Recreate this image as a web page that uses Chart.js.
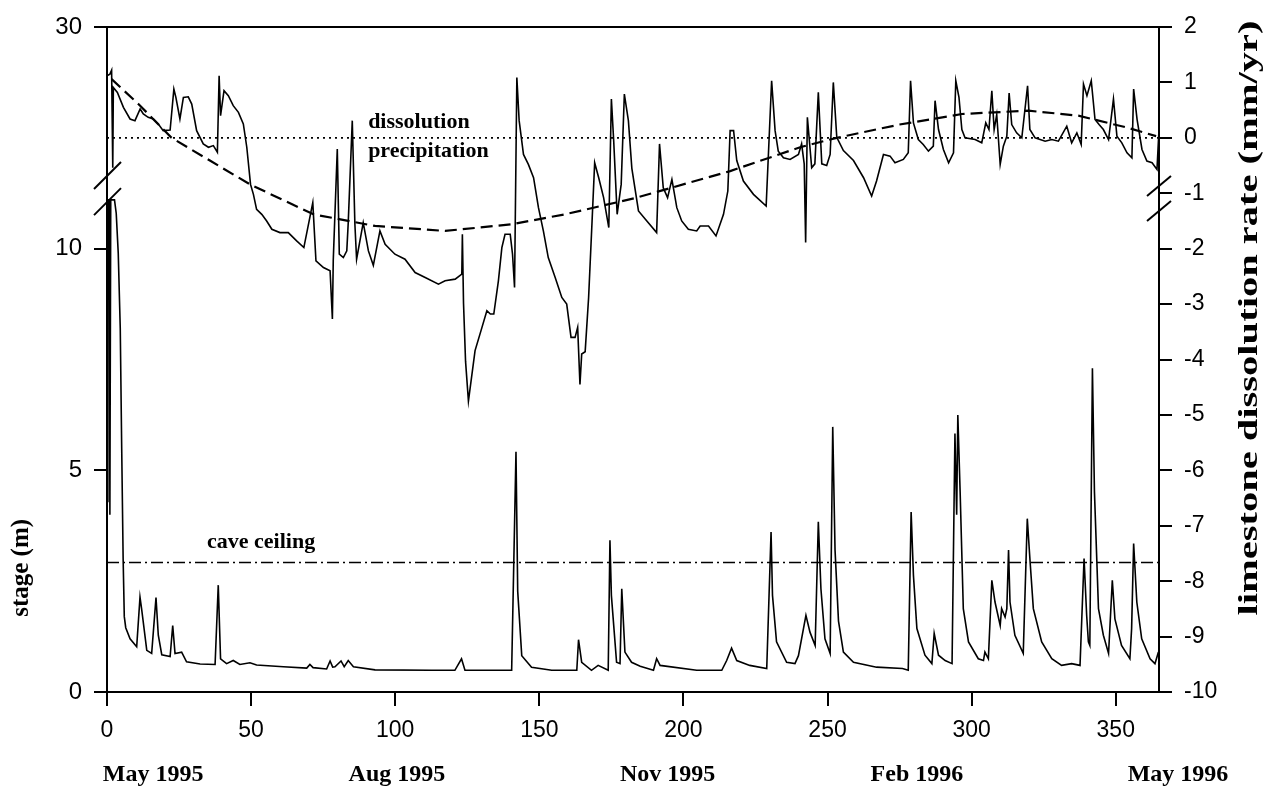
<!DOCTYPE html>
<html>
<head>
<meta charset="utf-8">
<title>Stage and limestone dissolution rate</title>
<script src="https://cdn.jsdelivr.net/npm/chart.js@4.4.1/dist/chart.umd.min.js"></script>
<style>
  html, body { margin: 0; padding: 0; background: #fff; }
  #wrap { width: 1266px; height: 791px; }
</style>
</head>
<body>
<div id="wrap"><canvas id="chart" width="1266" height="791"></canvas></div>
<script>
// ---- data (day 0 = 1 May 1995) ----
const stageDays = [
  0, 0.3, 0.8, 1.0, 1.3, 2.6, 3.2, 3.9, 4.6, 5.1, 5.6, 6.0, 6.5, 8.0, 10.3, 11.45, 12.0, 13.8, 15.5, 17.0,
  17.8, 19.0, 21.9, 22.8, 23.6, 25.9, 27.6, 32.3, 37.5, 38.6, 39.4, 41.5, 43.8, 46.1, 49.6, 51.9, 61.2, 69.3, 70.4, 71.5,
  76.2, 77.4, 78.3, 79.1, 81.2, 82.3, 83.7, 85.5, 93, 112.6, 120.7, 123, 124.2, 140.4, 141.9, 142.5, 143.9, 147.3, 154.3, 163,
  163.6, 164.7, 168.1, 170.4, 173.9, 174.5, 175, 176.8, 178, 178.6, 179.7, 182, 185, 189.6, 190.7, 191.9, 204.6, 213.3, 215, 216.7,
  218.5, 223, 228.9, 230.4, 230.9, 232.3, 235.8, 238.7, 239.9, 242.5, 243.9, 245.7, 246.8, 247.7, 249.1, 250.9, 251.8, 252.6, 253.8, 255.5,
  259, 267, 276, 278, 279, 279.8, 281, 283.8, 286.2, 287, 288.5, 290.8, 293.2, 294.2, 294.8, 295.2, 296, 297.1, 298.9, 302.3,
  304.1, 304.6, 305.8, 307, 308.1, 309.9, 310.4, 311.6, 312.2, 312.8, 313.3, 315, 317.9, 319.3, 320.2, 321.4, 324.3, 327.8, 331.2, 334.7,
  337.6, 339, 339.9, 340.5, 341, 341.9, 342.6, 344, 345.7, 347.5, 348.8, 349.7, 352, 354.9, 355.5, 356.2, 357.3, 359, 361.9, 363.6,
  364.8
];
const stageValues = [
  4.3, 11.1, 11.1, 4.0, 11.1, 11.1, 10.8, 9.9, 8.2, 5.5, 3.0, 1.7, 1.45, 1.2, 1.02, 2.14, 1.88, 0.94, 0.87, 2.13,
  1.28, 0.84, 0.80, 1.5, 0.87, 0.9, 0.68, 0.63, 0.62, 2.41, 0.75, 0.64, 0.71, 0.62, 0.66, 0.61, 0.57, 0.54, 0.62, 0.55,
  0.52, 0.70, 0.56, 0.57, 0.70, 0.57, 0.71, 0.57, 0.5, 0.49, 0.49, 0.75, 0.49, 0.49, 5.42, 2.27, 0.82, 0.56, 0.49, 0.49,
  1.18, 0.67, 0.49, 0.60, 0.49, 3.42, 2.18, 0.67, 0.64, 2.33, 0.90, 0.67, 0.58, 0.49, 0.75, 0.60, 0.49, 0.49, 0.71, 0.99,
  0.71, 0.60, 0.53, 3.61, 2.18, 1.13, 0.67, 0.64, 0.82, 1.73, 1.35, 1.05, 3.84, 2.33, 1.2, 0.87, 5.98, 3.2, 1.6, 0.9,
  0.67, 0.56, 0.53, 0.49, 4.06, 2.63, 1.43, 0.83, 0.64, 1.32, 0.83, 0.71, 0.64, 5.83, 4.0, 6.25, 4.52, 1.88, 1.13, 0.75,
  0.71, 0.9, 0.75, 2.52, 2.03, 1.5, 1.88, 1.69, 1.88, 3.2, 2.03, 1.28, 0.87, 3.91, 3.01, 1.88, 1.13, 0.75, 0.60, 0.64,
  0.60, 3.01, 1.73, 1.13, 1.05, 7.30, 4.52, 1.88, 1.28, 0.87, 2.52, 1.65, 1.05, 0.75, 1.43, 3.35, 2.03, 1.2, 0.75, 0.64,
  0.9
];

const rateDays = [
  0, 1.0, 1.6, 2.0, 2.2, 3.6, 5.7, 8.0, 9.7, 11.5, 12.6, 14.3, 16.1, 17.8, 19.5, 21.9, 23.2, 23.9, 25.3, 26.5,
  28.2, 29.4, 31.1, 33.4, 35.2, 36.9, 38.3, 38.9, 39.4, 40.6, 42.1, 43.8, 45.6, 47.3, 48.5, 49.8, 50.8, 51.9, 53.7, 55.4,
  57.2, 60.0, 62.9, 65.8, 68.3, 71.4, 72.5, 75.1, 77.4, 78.2, 78.5, 79.9, 80.6, 82, 83.2, 83.7, 85.1, 86.0, 86.6, 88.9,
  90.7, 92.4, 94.7, 96.5, 99.9, 103.4, 106.9, 110.4, 115, 117.3, 120.8, 123.1, 123.3, 123.7, 124.4, 125.4, 127.7, 130.1, 131.8, 133,
  134.2, 135.8, 137, 138.1, 139.9, 140.7, 141.4, 142.2, 143, 144.5, 146.2, 148, 149.7, 151.4, 153.1, 155.5, 157.8, 159.5, 161, 162.4,
  163.3, 164.1, 164.7, 165.9, 167.1, 168.3, 169.2, 170.6, 172.3, 174.1, 175, 175.8, 177, 178.4, 179.5, 180.9, 182.1, 184.4, 187.3, 190.7,
  191.7, 193, 194.5, 196, 197.7, 199.4, 201.7, 204.6, 205.8, 208.7, 211.3, 213.9, 215.4, 216.2, 217.4, 218.5, 220.8, 224.3, 228.7, 230.6,
  231.8, 232.9, 234.7, 237, 239.9, 241, 241.9, 242.4, 243, 244.5, 245.6, 246.8, 248, 249.7, 250.9, 252, 253.2, 255.5, 259, 262.5,
  265.3, 267, 269.4, 271.7, 273.4, 276.3, 278, 278.8, 279.8, 281.5, 283.2, 285, 286.7, 287.3, 288.5, 290.2, 292, 293.7, 294.5, 295.6,
  296.6, 297.7, 301.2, 303.5, 304.9, 306, 307, 307.8, 308.7, 309.9, 311, 312.2, 313, 313.9, 315.6, 317.4, 319.4, 320.2, 322, 325.5,
  327.8, 330.1, 333, 334.7, 336.5, 338, 338.8, 340, 341.5, 342.8, 344.2, 345.7, 347.5, 349.2, 350.4, 352.1, 353.9, 355.6, 356.2, 357.4,
  359.1, 360.8, 362.6, 364.3, 365
];
const rateValues = [
  1.12, 1.15, 1.22, -0.54, 0.91, 0.82, 0.55, 0.34, 0.31, 0.52, 0.43, 0.37, 0.34, 0.25, 0.13, 0.14, 0.88, 0.73, 0.34, 0.73,
  0.74, 0.61, 0.13, -0.11, -0.17, -0.14, -0.26, 1.12, 0.40, 0.85, 0.76, 0.58, 0.46, 0.25, -0.17, -0.84, -1.02, -1.29, -1.38, -1.5,
  -1.65, -1.71, -1.71, -1.86, -1.98, -1.17, -2.22, -2.34, -2.4, -3.27, -2.22, -0.2, -2.1, -2.16, -2.04, -1.53, 0.31, -1.55, -2.19, -1.53,
  -2.04, -2.3, -1.68, -1.92, -2.1, -2.19, -2.43, -2.52, -2.64, -2.58, -2.55, -2.46, -1.74, -2.99, -4.03, -4.75, -3.84, -3.42, -3.12, -3.18,
  -3.18, -2.58, -1.98, -1.74, -1.74, -2.1, -2.7, 1.09, 0.31, -0.3, -0.48, -0.72, -1.26, -1.68, -2.16, -2.52, -2.88, -3.0, -3.6, -3.6,
  -3.42, -4.45, -3.9, -3.86, -2.88, -1.5, -0.45, -0.72, -1.08, -1.62, 0.70, -0.05, -1.38, -0.84, 0.79, 0.31, -0.55, -1.32, -1.5, -1.71,
  -0.11, -0.9, -1.08, -0.75, -1.26, -1.5, -1.65, -1.68, -1.59, -1.59, -1.77, -1.38, -0.96, 0.13, 0.13, -0.41, -0.78, -1.02, -1.23, 1.03,
  0.13, -0.24, -0.36, -0.39, -0.3, -0.11, -0.47, -1.89, 0.37, -0.54, -0.47, 0.82, -0.47, -0.5, -0.3, 1.0, 0.01, -0.23, -0.41, -0.72,
  -1.05, -0.78, -0.3, -0.33, -0.45, -0.39, -0.27, 1.03, 0.27, -0.03, -0.12, -0.24, -0.15, 0.67, 0.15, -0.21, -0.45, -0.27, 1.03, 0.73,
  0.15, 0.0, -0.03, -0.09, 0.27, 0.15, 0.85, 0.15, 0.42, -0.48, -0.15, 0.03, 0.81, 0.24, 0.09, 0.0, 0.94, 0.15, 0.0, -0.06,
  -0.03, -0.06, 0.21, -0.09, 0.09, -0.12, 0.97, 0.76, 1.03, 0.33, 0.24, 0.15, -0.03, 0.70, 0.03, -0.09, -0.27, -0.36, 0.88, 0.33,
  -0.21, -0.42, -0.45, -0.57, 0.15
];

// long-term trend of the dissolution rate (dashed curve)
const trendDays = [1.6, 11.5, 22.4, 35.7, 49.6, 71.6, 93, 117.3, 140.4, 158.9, 183, 216.2, 240.5, 253.2, 275, 296.6, 319.7, 337, 354.3, 364];
const trendValues = [1.06, 0.58, 0.0, -0.41, -0.84, -1.38, -1.59, -1.68, -1.56, -1.38, -1.09, -0.6, -0.17, 0.0, 0.24, 0.43, 0.49, 0.40, 0.18, 0.03];

const ceilingStage = 2.92;   // cave ceiling (m)
const dayTicks = [0, 50, 100, 150, 200, 250, 300, 350];
const stageTicks = [0, 5, 10, 15];             // axis is broken above 10 m
const stageTickLabels = ['0', '5', '10', '30'];
const months = ['May 1995', 'Aug 1995', 'Nov 1995', 'Feb 1996', 'May 1996'];

// ---- drawing ----
const black = '#000';
const sans = "'Liberation Sans', Arial, sans-serif";
const serif = "'Liberation Serif', 'Times New Roman', serif";
const pts = (xs, ys) => xs.map((x, i) => ({ x, y: ys[i] }));

const monthAt = [16, 100.6, 194.5, 281, 371.6];   // label centres, in days

const decor = {
  id: 'decor',
  beforeDraw(chart) {
    const { ctx, width, height } = chart;
    ctx.save();
    ctx.fillStyle = '#fff';
    ctx.fillRect(0, 0, width, height);
    ctx.restore();
  },
  afterDraw(chart) {
    const { ctx, chartArea: a, scales } = chart;
    const x = scales.x, yl = scales.y, yr = scales.y2;
    ctx.save();
    ctx.strokeStyle = black;
    ctx.fillStyle = black;

    // frame
    ctx.lineWidth = 2;
    ctx.strokeRect(a.left, a.top, a.right - a.left, a.bottom - a.top);

    // axis break marks
    const seg = (x1, y1, x2, y2) => { ctx.beginPath(); ctx.moveTo(x1, y1); ctx.lineTo(x2, y2); ctx.stroke(); };
    [11.64, 11.05].forEach(v => { const y = yl.getPixelForValue(v); seg(a.left - 13, y + 13, a.left + 14, y - 14); });
    [-0.87, -1.32].forEach(v => { const y = yr.getPixelForValue(v); seg(a.right - 12, y + 10, a.right + 12, y - 10); });

    // annotations
    ctx.font = 'bold 22px ' + serif;
    ctx.textAlign = 'left';
    ctx.textBaseline = 'alphabetic';
    ctx.fillText('dissolution', x.getPixelForValue(90.6), yr.getPixelForValue(0.18));
    ctx.fillText('precipitation', x.getPixelForValue(90.6), yr.getPixelForValue(-0.35));
    ctx.fillText('cave ceiling', x.getPixelForValue(34.7), yl.getPixelForValue(3.25));

    // month labels under the day axis
    ctx.font = 'bold 24px ' + serif;
    ctx.textAlign = 'center';
    months.forEach((m, i) => ctx.fillText(m, x.getPixelForValue(monthAt[i]), a.bottom + 89));

    // left axis title
    ctx.font = 'bold 25px ' + serif;
    ctx.textBaseline = 'middle';
    ctx.save();
    ctx.translate(22, yl.getPixelForValue(2.8));
    ctx.rotate(-Math.PI / 2);
    ctx.fillText('stage (m)', 0, 0);
    ctx.restore();

    // right axis title (drawn long, as in the original figure)
    const rt = 'limestone dissolution rate (mm/yr)';
    ctx.font = 'bold 28px ' + serif;
    const w = ctx.measureText(rt).width;
    ctx.save();
    ctx.translate(1250, 318);
    ctx.rotate(-Math.PI / 2);
    ctx.scale(595 / w, 1);
    ctx.fillText(rt, 0, 0);
    ctx.restore();

    ctx.restore();
  }
};

const line = (data, axis, width, dash) => ({
  data, yAxisID: axis, showLine: true, borderColor: black, backgroundColor: black,
  borderWidth: width, borderDash: dash || [], pointRadius: 0, tension: 0
});

new Chart(document.getElementById('chart'), {
  type: 'scatter',
  data: {
    datasets: [
      line(pts(stageDays, stageValues), 'y', 1.6),
      line([{ x: 0, y: ceilingStage }, { x: 365, y: ceilingStage }], 'y', 1.6, [12, 4, 2, 4]),
      line(pts(rateDays, rateValues), 'y2', 1.6),
      line(pts(trendDays, trendValues), 'y2', 2.2, [12, 6]),
      line([{ x: 0, y: 0 }, { x: 365, y: 0 }], 'y2', 1.6, [2, 4])
    ]
  },
  options: {
    responsive: false,
    animation: false,
    devicePixelRatio: 1,
    layout: { padding: { top: 27, left: 0, right: 0, bottom: 0 } },
    plugins: { legend: { display: false }, tooltip: { enabled: false } },
    scales: {
      x: {
        type: 'linear', min: 0, max: 365,
        afterBuildTicks: s => { s.ticks = dayTicks.map(v => ({ value: v })); },
        afterFit: s => { s.height = 99; },
        ticks: { font: { family: sans, size: 23 }, color: black, padding: 11, maxRotation: 0, autoSkip: false },
        grid: { drawOnChartArea: false, color: black, lineWidth: 2, tickLength: 14 },
        border: { color: black, width: 2 }
      },
      y: {
        position: 'left', min: 0, max: 15,
        afterBuildTicks: s => { s.ticks = stageTicks.map(v => ({ value: v })); },
        afterFit: s => { s.width = 107; },
        ticks: {
          font: { family: sans, size: 24 }, color: black, padding: 12,
          callback: v => stageTickLabels[stageTicks.indexOf(v)]
        },
        grid: { drawOnChartArea: false, color: black, lineWidth: 2, tickLength: 13 },
        border: { color: black, width: 2 }
      },
      y2: {
        position: 'right', min: -10, max: 2,
        afterFit: s => { s.width = 107; },
        ticks: { stepSize: 1, font: { family: sans, size: 23 }, color: black, padding: 12 },
        grid: { drawOnChartArea: false, color: black, lineWidth: 2, tickLength: 13 },
        border: { color: black, width: 2 }
      }
    }
  },
  plugins: [decor]
});
</script>
</body>
</html>
